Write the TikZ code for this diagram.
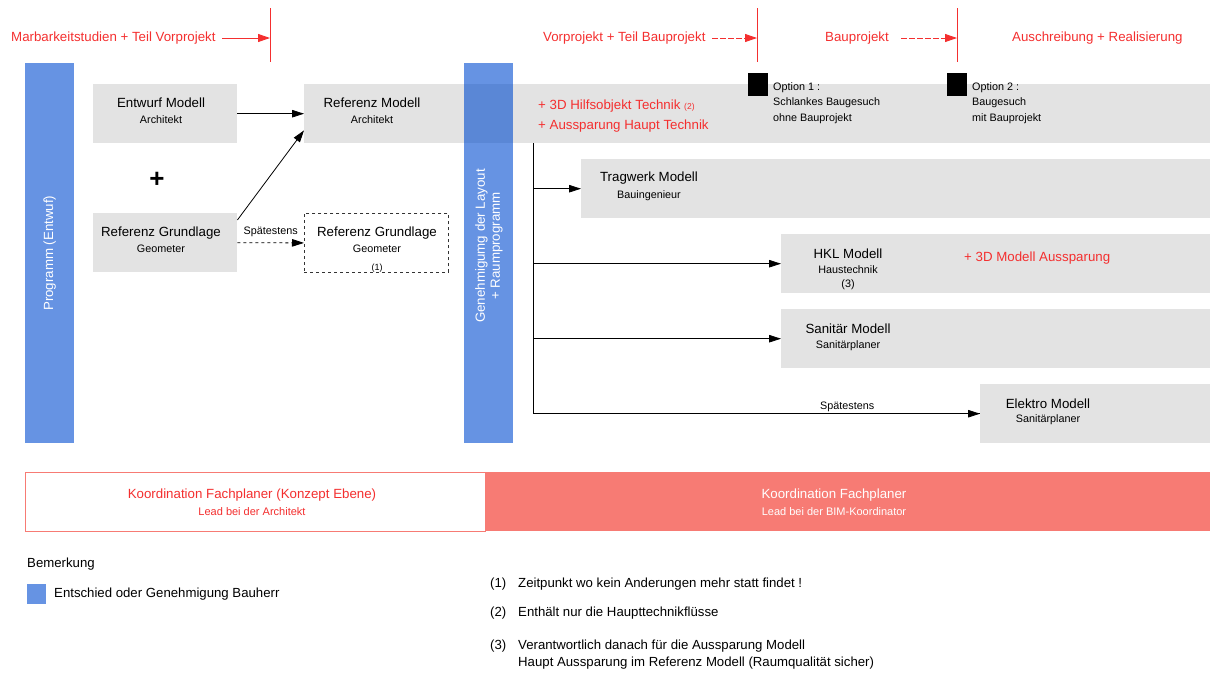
\documentclass[tikz,border=0pt]{standalone}
\usepackage{fontspec}
\setmainfont{Liberation Sans}
\usetikzlibrary{arrows.meta}
\definecolor{boxgray}{HTML}{E3E3E3}
\definecolor{bbar}{HTML}{6693E3}
\definecolor{bbardark}{HTML}{5A87D6}
\definecolor{rtext}{HTML}{F42F2F}
\definecolor{salmon}{HTML}{F77B74}
\newcommand\fsz[2]{\fontsize{#1}{#2}\selectfont}
\begin{document}
\begin{tikzpicture}[x=1pt,y=-1pt,
  box/.style={fill=boxgray, draw=none, inner sep=0pt, anchor=north west},
  bar/.style={fill=bbar, draw=none, inner sep=0pt, anchor=north west, minimum width=49pt, minimum height=380pt},
  big/.style={font=\fsz{13.3}{15}, inner sep=0pt},
  small/.style={font=\fsz{10.8}{13}, inner sep=0pt},
  tiny/.style={font=\fsz{9}{11}, inner sep=0pt},
  red/.style={text=rtext},
  arr/.style={-{Triangle[length=12pt,width=7.5pt]}, draw=black, line width=0.8pt},
  rarr/.style={-{Triangle[length=12pt,width=8pt]}, draw=rtext, line width=0.9pt},
  phase/.style={draw=rtext, line width=0.9pt},
  note/.style={font=\fsz{13.2}{15}, inner sep=0pt, anchor=west}
]
\useasboundingbox (0,0) rectangle (1210,673);

% ---------- phase header ----------
\node[big, red, anchor=west] (p1) at (11,38) {Marbarkeitstudien + Teil Vorprojekt};
\coordinate (v1t) at (270,8); \coordinate (v1b) at (270,62);
\draw[phase] (v1t) -- (v1b);
\coordinate (a1s) at (222,38); \coordinate (a1e) at (270,38);
\draw[rarr] (a1s) -- (a1e);

\node[big, red, anchor=west] (p2) at (543,38) {Vorprojekt + Teil Bauprojekt};
\coordinate (v2t) at (757,8); \coordinate (v2b) at (757,62);
\draw[phase] (v2t) -- (v2b);
\coordinate (a2s) at (712,38); \coordinate (a2e) at (757,38);
\draw[rarr, dash pattern=on 6pt off 2pt] (a2s) -- (a2e);

\node[big, red] (p3) at (857,38) {Bauprojekt};
\coordinate (v3t) at (957,8); \coordinate (v3b) at (957,62);
\draw[phase] (v3t) -- (v3b);
\coordinate (a3s) at (901,38); \coordinate (a3e) at (957,38);
\draw[rarr, dash pattern=on 6pt off 2pt] (a3s) -- (a3e);

\node[big, red, anchor=west] (p4) at (1012,38) {Auschreibung + Realisierung};

% ---------- blue bars ----------
\node[bar] (prog) at (25,63) {};
\node[big, text=white, rotate=90] (progt) at (prog.center) {Programm (Entwuf)};
\node[bar] (gen) at (464,63) {};

% ---------- gray boxes ----------
\node[box, minimum width=144pt, minimum height=59pt] (ent) at (93,84) {};
\node[big] (entt) at (161,103) {Entwurf Modell};
\node[small] (ents) at (161,120) {Architekt};

\node[box, minimum width=144pt, minimum height=59pt] (rg) at (93,213) {};
\node[big] (rgt) at (161,233) {Referenz Grundlage};
\node[small] (rgs) at (161,249) {Geometer};

\node[font=\fsz{26}{26}\bfseries, inner sep=0pt] (plus) at (157,180) {+};

\node[box, minimum width=906pt, minimum height=59pt] (refm) at (304,84) {};
\fill[bbardark] (464,84) rectangle (513,143);
\node[big] (refmt) at (372,103) {Referenz Modell};
\node[small] (refms) at (372,120) {Architekt};
\node[big, red, anchor=west] (h1) at (538,106) {+ 3D Hilfsobjekt Technik {\fsz{8.5}{10}(2)}};
\node[big, red, anchor=west] (h2) at (538,126) {+ Aussparung Haupt Technik};

\node[big, text=white, rotate=90, align=center] (gent) at (489,246) {Genehmigumg der Layout\\+ Raumprogramm};

% options
\node[fill=black, inner sep=0pt, minimum width=20pt, minimum height=23pt, anchor=north west] (o1) at (748,73) {};
\node[small, anchor=north west, align=left, font=\fsz{10.8}{15.5}] (o1t) at (773,82) {Option 1 :\\Schlankes Baugesuch\\ohne Bauprojekt};
\node[fill=black, inner sep=0pt, minimum width=20pt, minimum height=23pt, anchor=north west] (o2) at (947,73) {};
\node[small, anchor=north west, align=left, font=\fsz{10.8}{15.5}] (o2t) at (972,82) {Option 2 :\\Baugesuch\\mit Bauprojekt};

% dashed referenz grundlage
\node[draw=black!80, dashed, line width=0.8pt, inner sep=0pt, minimum width=144pt, minimum height=59pt, anchor=north west] (rgd) at (304,213) {};
\node[big] (rgdt) at (377,233) {Referenz Grundlage};
\node[small] (rgds) at (377,249) {Geometer};
\node[tiny] (rgdn) at (377,268) {(1)};

% discipline models
\node[box, minimum width=629pt, minimum height=59pt] (trag) at (581,159) {};
\node[big] (tragt) at (649,178) {Tragwerk Modell};
\node[small] (trags) at (649,196) {Bauingenieur};

\node[box, minimum width=429pt, minimum height=59pt] (hkl) at (781,234) {};
\node[big] (hklt) at (848,254) {HKL Modell};
\node[small] (hkls) at (848,270) {Haustechnik};
\node[small] (hkln) at (848,285) {(3)};
\node[big, red, anchor=west] (hklr) at (964,258) {+ 3D Modell Aussparung};

\node[box, minimum width=429pt, minimum height=59pt] (san) at (781,309) {};
\node[big] (sant) at (848,329) {Sanitär Modell};
\node[small] (sans) at (848,346) {Sanitärplaner};

\node[box, minimum width=230pt, minimum height=59pt] (elek) at (980,384) {};
\node[big] (elekt) at (1048,404) {Elektro Modell};
\node[small] (eleks) at (1048,420) {Sanitärplaner};

% ---------- connectors ----------
\draw[arr] (ent.east) -- (refm.west);
\draw[arr] ([yshift=-7pt]rg.north east) -- ([yshift=13pt]refm.south west);
\draw[arr, dashed] (rg.east) -- node[small, above=5pt, fill=white, inner sep=1pt] (sp1) {Spätestens} (rgd.west);

\coordinate (t0) at (533,143);
\draw[line width=0.8pt] (t0) |- (elek.west);
\draw[arr] (t0 |- trag.west) -- (trag.west);
\draw[arr] (t0 |- hkl.west) -- (hkl.west);
\draw[arr] (t0 |- san.west) -- (san.west);
\draw[arr] (t0 |- elek.west) -- node[small, above=2pt, pos=0.703] (sp2) {Spätestens} (elek.west);

% ---------- coordination band ----------
\node[draw=salmon, fill=white, line width=0.8pt, inner sep=0pt, minimum width=460pt, minimum height=59pt, anchor=north west] (kl) at (25,472) {};
\node[fill=salmon, inner sep=0pt, minimum width=725pt, minimum height=59pt, anchor=north west] (kr) at (485,472) {};
\node[big, red] (klt) at (252,495) {Koordination Fachplaner (Konzept Ebene)};
\node[font=\fsz{11}{12}, inner sep=0pt, red] (kls) at (252,512) {Lead bei der Architekt};
\node[big, text=white] (krt) at (834,495) {Koordination Fachplaner};
\node[font=\fsz{11}{12}, inner sep=0pt, text=white] (krs) at (834,512) {Lead bei der BIM-Koordinator};

% ---------- legend ----------
\node[note] (bem) at (27,564) {Bemerkung};
\node[fill=bbar, inner sep=0pt, minimum width=19pt, minimum height=20pt, anchor=north west] (leg) at (27,584) {};
\node[note] (legt) at (54,594) {Entschied oder Genehmigung Bauherr};

\node[note] (n1) at (490,584) {(1)};
\node[note] (n1t) at (518,584) {Zeitpunkt wo kein Anderungen mehr statt findet !};
\node[note] (n2) at (490,613) {(2)};
\node[note] (n2t) at (518,613) {Enthält nur die Haupttechnikflüsse};
\node[note] (n3) at (490,646) {(3)};
\node[note] (n3t) at (518,646) {Verantwortlich danach für die Aussparung Modell};
\node[note] (n3u) at (518,663) {Haupt Aussparung im Referenz Modell (Raumqualität sicher)};
\end{tikzpicture}
\end{document}
